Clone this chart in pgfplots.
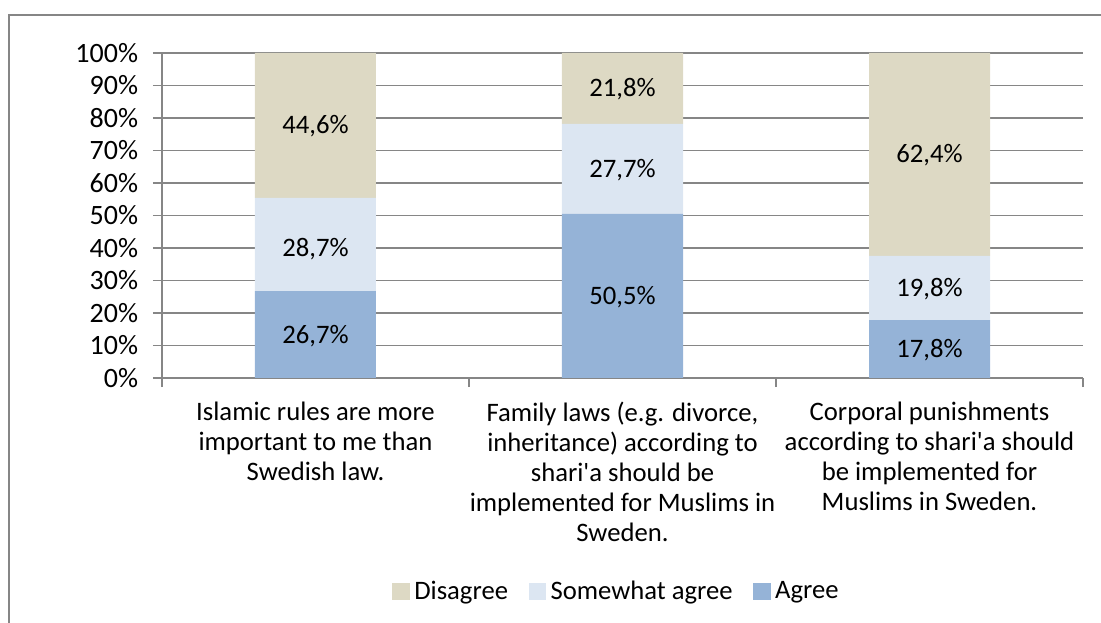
\documentclass[border=0pt]{standalone}
\usepackage{pgfplots}
\pgfplotsset{compat=1.18}
\usepackage{fontspec}
\setmainfont{Carlito}[Ligatures=TeXOff]
\definecolor{agree}{HTML}{95B3D7}
\definecolor{some}{HTML}{DCE6F2}
\definecolor{dis}{HTML}{DDD9C4}
\definecolor{gridc}{HTML}{868686}

\pgfplotstableread{
x agree some dis
0 26.7 28.7 44.6
1 50.5 27.7 21.8
2 17.8 19.8 62.4
}\datatable

% label positions: middle of each stacked segment
\pgfplotstableread{
x y v
0 13.35 26.7
0 40.05 28.7
0 77.70 44.6
1 25.25 50.5
1 64.35 27.7
1 89.10 21.8
2 8.90 17.8
2 27.70 19.8
2 68.80 62.4
}\labeltable

\begin{document}
\begin{tikzpicture}
\path[use as bounding box] (0,0) rectangle (825.75pt,-467.25pt);
\draw[gridc, line width=1.3pt] (6.75pt,-470pt) -- (6.75pt,-11.25pt) -- (830pt,-11.25pt);
\begin{axis}[
  at={(121.5pt,-283.5pt)}, anchor=south west,
  scale only axis, width=690.75pt, height=243.75pt,
  ybar stacked, bar width=90.75pt,
  xmin=-0.5, xmax=2.5, ymin=0, ymax=100,
  axis x line*=bottom, axis y line*=left,
  axis line style={-, draw=gridc, line width=1.3pt},
  ymajorgrids, grid style={draw=gridc, line width=1.3pt},
  ytick={0,10,...,100},
  yticklabels={0\%,10\%,20\%,30\%,40\%,50\%,60\%,70\%,80\%,90\%,100\%},
  tick align=outside, major tick length=6.75pt,
  tick style={draw=gridc, line width=1.3pt},
  xtick={-0.5,0.5,1.5,2.5}, xticklabels={},
  extra x ticks={0,1,2},
  extra x tick labels={{Islamic rules are more\\important to me than\\Swedish law.},
    {Family laws (e.g. divorce,\\inheritance) according to\\shari'a should be\\implemented for Muslims in\\Sweden.},
    {Corporal punishments\\according to shari'a should\\be implemented for\\Muslims in Sweden.}},
  extra x tick style={major tick length=0pt, grid=none},
  xticklabel style={align=center, font=\fontsize{20}{22.5}\selectfont, anchor=north, inner sep=0pt, yshift=-18pt},
  yticklabel style={font=\fontsize{21}{22.5}\selectfont, anchor=east, inner sep=0pt, xshift=-11pt},
  clip=false,
]
\addplot[fill=agree, draw=none] table[x=x, y=agree]{\datatable};
\addplot[fill=some, draw=none] table[x=x, y=some]{\datatable};
\addplot[fill=dis, draw=none] table[x=x, y=dis]{\datatable};
\end{axis}
\begin{axis}[
  at={(121.5pt,-283.5pt)}, anchor=south west,
  scale only axis, width=690.75pt, height=243.75pt,
  xmin=-0.5, xmax=2.5, ymin=0, ymax=100,
  hide axis, clip=false,
  legend style={at={(0.495,-0.655)}, anchor=center, draw=none, fill=none,
    font=\fontsize{20}{22.5}\selectfont, legend columns=-1,
    /tikz/every even column/.append style={column sep=12pt},
    nodes={inner xsep=3.5pt, inner ysep=0pt},
    inner sep=0pt},
]
\addlegendimage{legend image code/.code={\fill[dis] (0pt,-6pt) rectangle (12.5pt,5.5pt);}}
\addlegendentry{Disagree}
\addlegendimage{legend image code/.code={\fill[some] (0pt,-6pt) rectangle (12.5pt,5.5pt);}}
\addlegendentry{Somewhat agree}
\addlegendimage{legend image code/.code={\fill[agree] (0pt,-6pt) rectangle (12.5pt,5.5pt);}}
\addlegendentry{Agree}
\addplot[draw=none, mark=none, point meta=explicit,
  nodes near coords={\pgfmathprintnumber[fixed,fixed zerofill,precision=1,use comma,assume math mode=true]{\pgfplotspointmeta}\%},
  nodes near coords align=center,
  every node near coord/.append style={font=\fontsize{20}{22.5}\selectfont, text=black, anchor=base, yshift=-6.3pt}]
  table[x=x, y=y, meta=v]{\labeltable};
\end{axis}
\end{tikzpicture}
\end{document}
